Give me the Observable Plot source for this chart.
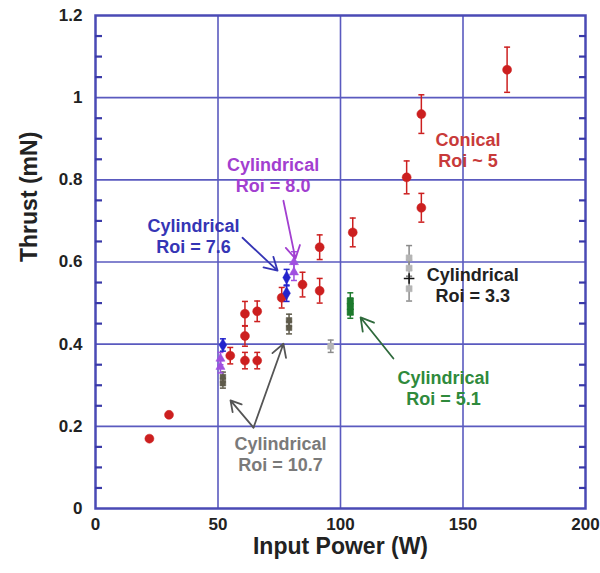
<!DOCTYPE html>
<html>
<head>
<meta charset="utf-8">
<script src="https://cdn.jsdelivr.net/npm/d3@7"></script>
<script src="https://cdn.jsdelivr.net/npm/@observablehq/plot@0.6"></script>
<style>
  html, body { margin: 0; padding: 0; background: #fff; }
</style>
</head>
<body>
<div id="chart"></div>
<script>
// ---- data ----
const xTicks = [0, 50, 100, 150, 200];
const yTicks = [0, 0.2, 0.4, 0.6, 0.8, 1, 1.2];
const yMinor = [0.05,0.1,0.15,0.25,0.3,0.35,0.45,0.5,0.55,0.65,0.7,0.75,0.85,0.9,0.95,1.05,1.1,1.15];

const conicalX   = [22, 30, 55, 61, 61, 61, 66, 66, 76, 84.5, 91.5, 91.5, 105, 127, 133, 133, 168];
const conicalY   = [0.17, 0.228, 0.372, 0.36, 0.42, 0.474, 0.36, 0.48, 0.513, 0.545, 0.53, 0.636, 0.672, 0.806, 0.732, 0.96, 1.068];
const conicalErr = [0, 0, 0.02, 0.02, 0.025, 0.03, 0.02, 0.025, 0.025, 0.03, 0.03, 0.03, 0.035, 0.04, 0.035, 0.047, 0.055];

const cyl76X = [52, 78, 78];
const cyl76Y = [0.398, 0.562, 0.524];
const cyl76Err = [0.015, 0.02, 0.02];

const cyl80X = [51, 51, 81, 81];
const cyl80Y = [0.365, 0.345, 0.6, 0.575];
const cyl80Err = [0.015, 0.015, 0.025, 0.02];

const cyl107X = [52, 52, 79, 79];
const cyl107Y = [0.305, 0.32, 0.44, 0.458];
const cyl107Err = [0.012, 0.012, 0.015, 0.015];

const cyl33X = [96, 128, 128, 128];
const cyl33Y = [0.395, 0.61, 0.585, 0.535];
const cyl33Err = [0.015, 0.03, 0.02, 0.03];
const cyl33MeanX = [128];
const cyl33MeanY = [0.56];

const cyl51X = [104, 104, 104];
const cyl51Y = [0.478, 0.492, 0.505];
const cyl51Err = [0.015, 0.02, 0.02];

// annotations
const labelText  = ["Cylindrical\nRoi = 7.6", "Cylindrical\nRoi = 8.0", "Conical\nRoi ~ 5", "Cylindrical\nRoi = 3.3", "Cylindrical\nRoi = 5.1", "Cylindrical\nRoi = 10.7"];
const labelX     = [40, 72.5, 152, 154, 142, 75.5];
const labelY     = [0.665, 0.813, 0.873, 0.545, 0.294, 0.134];
const labelColor = ["#3535b5", "#a23fd0", "#c83a3a", "#222222", "#2f8a3c", "#7a7a7a"];

const arrowX1 = [60, 76.7, 64.5, 64.5, 121.6];
const arrowY1 = [0.659, 0.749, 0.197, 0.197, 0.365];
const arrowX2 = [74.3, 81.6, 55.1, 76.7, 108.2];
const arrowY2 = [0.579, 0.608, 0.263, 0.401, 0.465];
const arrowColor = ["#3535b5", "#a23fd0", "#555555", "#555555", "#2f6a3c"];

// ---- helpers ----
function rows(xs, ys, es) { return xs.map((x, i) => ({x, y: ys[i], err: es ? es[i] : 0})); }
const capSymbol = { draw(ctx, size) { const h = Math.sqrt(size / Math.PI); ctx.moveTo(-h, 0); ctx.lineTo(h, 0); } };

function series(data, color, symbol, r, barColor) {
  const withErr = data.filter(d => d.err > 0);
  const bc = barColor || color;
  return [
    Plot.ruleX(withErr, {x: "x", y1: d => d.y - d.err, y2: d => d.y + d.err, stroke: bc, strokeWidth: 1.5}),
    Plot.dot(withErr, {x: "x", y: d => d.y - d.err, symbol: capSymbol, r: 3, stroke: bc, strokeWidth: 1.5}),
    Plot.dot(withErr, {x: "x", y: d => d.y + d.err, symbol: capSymbol, r: 3, stroke: bc, strokeWidth: 1.5}),
    Plot.dot(data, {x: "x", y: "y", symbol, r, fill: color, stroke: color, strokeWidth: 0.5})
  ];
}

const conical = rows(conicalX, conicalY, conicalErr);
const c76 = rows(cyl76X, cyl76Y, cyl76Err);
const c80 = rows(cyl80X, cyl80Y, cyl80Err);
const c107 = rows(cyl107X, cyl107Y, cyl107Err);
const c33 = rows(cyl33X, cyl33Y, cyl33Err);
const c33m = rows(cyl33MeanX, cyl33MeanY, null);
const c51 = rows(cyl51X, cyl51Y, cyl51Err);
const labels = labelText.map((t, i) => ({t, x: labelX[i], y: labelY[i], c: labelColor[i]}));
const arrows = arrowX1.map((x1, i) => ({x1, y1: arrowY1[i], x2: arrowX2[i], y2: arrowY2[i], c: arrowColor[i]}));

const gridColor = "#5a5abf";
const frameColor = "#4a4ab5";
const xMin = xTicks[0], xMax = xTicks[xTicks.length - 1];

const chart = Plot.plot({
  width: 600,
  height: 573,
  marginLeft: 95,
  marginRight: 15,
  marginTop: 15,
  marginBottom: 65,
  style: {fontFamily: "'Liberation Sans', Arial, sans-serif", fontWeight: "bold", fontSize: "17px", color: "#222", background: "#fff"},
  x: {domain: [xMin, xMax]},
  y: {domain: [0, 1.2]},
  marks: [
    Plot.ruleX(xTicks.slice(1, -1), {stroke: gridColor, strokeWidth: 1.6}),
    Plot.ruleY(yTicks.slice(1, -1), {stroke: gridColor, strokeWidth: 1.6}),
    Plot.frame({stroke: frameColor, strokeWidth: 2.5}),
    Plot.axisY(yMinor, {anchor: "left", tickSize: -7, tickFormat: () => "", label: null, stroke: "#3a3aa8", strokeWidth: 2.2}),
    Plot.axisY(yMinor, {anchor: "right", tickSize: -7, tickFormat: () => "", label: null, stroke: "#3a3aa8", strokeWidth: 2.2}),
    Plot.axisY(yTicks, {anchor: "left", tickSize: 0, tickPadding: 13, tickFormat: d => String(d), label: null, fontSize: 17, fill: "#222"}),
    Plot.axisX(xTicks, {anchor: "bottom", tickSize: 0, tickPadding: 9, tickFormat: d => String(d), label: null, fontSize: 17, fill: "#222"}),
    ...series(conical, "#cc1f1f", "circle", 4.5),
    ...series(c107, "#5e5a4a", "square", 3.2),
    ...series(c80, "#a050e0", "triangle", 3.4),
    ...series(c76, "#2323cc", "diamond", 4),
    ...series(c33, "#b5b5b5", "square", 3.4, "#8a8a8a"),
    Plot.dot(c33m, {x: "x", y: "y", symbol: "plus", r: 3.5, stroke: "#111", strokeWidth: 1.5}),
    ...series(c51, "#1d7a2d", "square", 3.6),
    Plot.arrow(arrows, {x1: "x1", y1: "y1", x2: "x2", y2: "y2", stroke: "c", strokeWidth: 1.8, headLength: 12}),
    Plot.text(labels, {x: "x", y: "y", text: "t", fill: "c", fontSize: 18, fontWeight: "bold", lineHeight: 1.17, textAnchor: "middle"}),
    Plot.text(["Input Power (W)"], {frameAnchor: "bottom", dy: 45, fontSize: 23, fontWeight: "bold", fill: "#222"}),
    Plot.text(["Thrust (mN)"], {frameAnchor: "left", dx: -66, rotate: -90, fontSize: 23, fontWeight: "bold", fill: "#222"})
  ]
});
document.getElementById("chart").appendChild(chart);
</script>
</body>
</html>
